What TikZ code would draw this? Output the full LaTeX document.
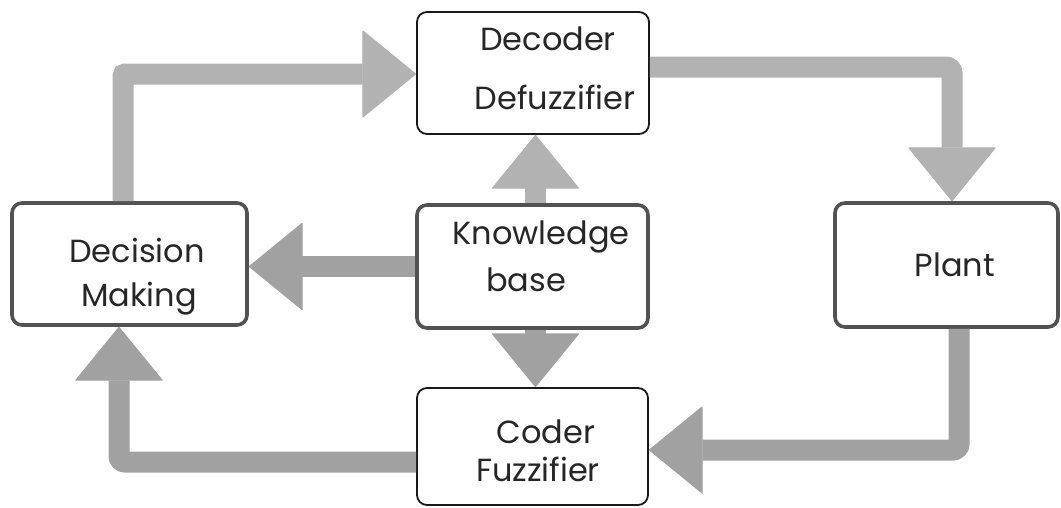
\documentclass[tikz,border=0pt]{standalone}
\usepackage{fontspec}
\setmainfont{Poppins}
\usetikzlibrary{arrows.meta}
% shift one centred line sideways by #1
\newcommand{\nudge}[2]{\hspace*{#1}#2}
\begin{document}
\begin{tikzpicture}[x=1pt,y=-1pt,
  box/.style={rectangle, rounded corners=10pt, inner sep=0pt},
  solidbox/.style={box, draw=black!90, line width=1.8pt},
  dotbox/.style={box, draw=black!68, line width=3.6pt},
  txt/.style={inner sep=0pt, align=center, text=black!85},
  fat/.style={line width=21pt, rounded corners=6pt,
    -{Triangle[width=88pt,length=54pt,line width=1pt,round]}},
  light/.style={draw=black!30},
  dark/.style={draw=black!37}]
\useasboundingbox (0,0) rectangle (1061,507);

% blocks of the fuzzy control loop
\node[solidbox, minimum width=232pt, minimum height=122pt] (dec) at (533,73) {};
\node[dotbox, minimum width=235pt, minimum height=122pt] (dm) at (129.5,264) {};
\node[dotbox, minimum width=231pt, minimum height=123pt] (kb) at (532.5,266.5) {};
\node[dotbox, minimum width=223pt, minimum height=124pt] (plant) at (946.5,265) {};
\node[solidbox, minimum width=231pt, minimum height=117pt] (coder) at (532.5,446.5) {};

% block labels
\node[txt, font=\fontsize{32}{59}\selectfont] (dec-t) at ([yshift=5pt]dec.center)
  {\nudge{30pt}{Decoder}\\\nudge{44pt}{Defuzzifier}};
\node[txt, font=\fontsize{32}{44}\selectfont] (dm-t) at ([yshift=-13pt]dm.center)
  {\nudge{15pt}{Decision}\\\nudge{19pt}{Making}};
\node[txt, font=\fontsize{32}{47}\selectfont] (kb-t) at ([yshift=10pt]kb.center)
  {\nudge{17pt}{Knowledge}\\base\hspace*{13pt}};
\node[txt, font=\fontsize{32}{44}\selectfont] (plant-t) at (plant.center)
  {\nudge{17pt}{Plant}};
\node[txt, font=\fontsize{32}{38}\selectfont] (coder-t) at ([yshift=-4pt]coder.center)
  {\nudge{27pt}{Coder}\\\nudge{11pt}{Fuzzifier}};

% main loop
\draw[fat, light, rounded corners=2pt] ([xshift=-6.5pt]dm.north) |- ([yshift=-1pt]dec.west);
\draw[fat, light] ([yshift=6pt]dec.east) -| ([xshift=5.5pt]plant.north);
\draw[fat, dark] ([xshift=12.5pt]plant.south) |- ([yshift=-3.5pt]coder.east);
\draw[fat, dark] ([yshift=-15.5pt]coder.west) -| ([xshift=-10.5pt]dm.south);

% knowledge base links
\draw[fat, dark] (kb.west) -- (kb.west -| dm.east);
\draw[fat, light] ([xshift=3pt]kb.north) -- ([xshift=3pt]kb.north |- dec.south);
\draw[fat, dark] ([xshift=3pt]kb.south) -- ([xshift=3pt]kb.south |- coder.north);
\end{tikzpicture}
\end{document}
